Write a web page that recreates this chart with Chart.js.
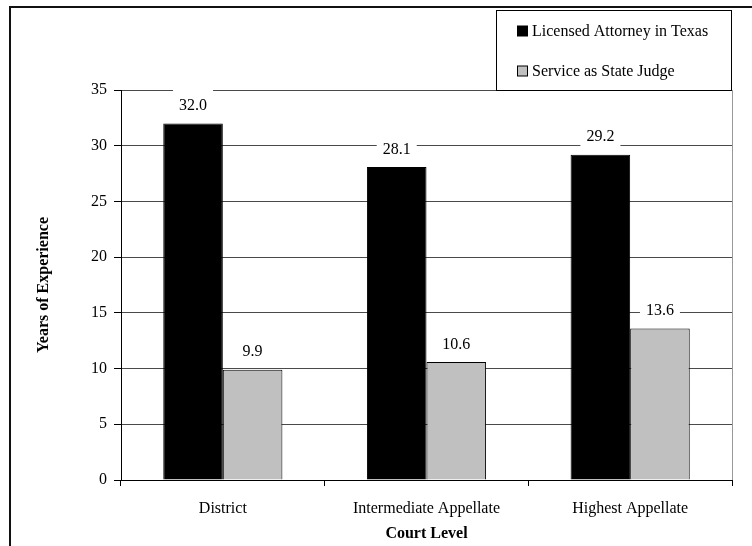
<!DOCTYPE html>
<html>
<head>
<meta charset="utf-8">
<script src="https://cdn.jsdelivr.net/npm/chart.js@4"></script>
<style>
  html, body { margin: 0; padding: 0; background: #fff; }
  #wrap { width: 752px; height: 546px; }
</style>
</head>
<body>
<div id="wrap"><canvas id="c" width="752" height="546"></canvas></div>
<script>
// Court levels and average years of experience per level
const courtLevels = ['District', 'Intermediate Appellate', 'Highest Appellate'];
const seriesNames = ['Licensed Attorney in Texas', 'Service as State Judge'];
const attorneyYears = [32.0, 28.1, 29.2];
const judgeYears = [9.9, 10.6, 13.6];
const yAxisMin = 0;
const yAxisMax = 35;
const yAxisStep = 5;

const SERIF = "'Liberation Serif', 'Times New Roman', serif";

// White page with the outer frame (left and top edges)
const framePlugin = {
  id: 'frame',
  beforeDraw(chart) {
    const ctx = chart.ctx;
    ctx.save();
    ctx.fillStyle = '#fff';
    ctx.fillRect(0, 0, chart.width, chart.height);
    ctx.strokeStyle = '#111';
    ctx.lineWidth = 2;
    ctx.beginPath();
    ctx.moveTo(10, chart.height + 2);
    ctx.lineTo(10, 7);
    ctx.lineTo(chart.width + 2, 7);
    ctx.stroke();
    ctx.restore();
  }
};

// Value labels above each bar, on a white box that hides the grid behind it
const valueLabelPlugin = {
  id: 'valueLabels',
  afterDatasetsDraw(chart) {
    const ctx = chart.ctx;
    ctx.save();
    ctx.font = '16px ' + SERIF;
    ctx.textAlign = 'center';
    ctx.textBaseline = 'middle';
    chart.data.datasets.forEach((ds, di) => {
      const meta = chart.getDatasetMeta(di);
      meta.data.forEach((bar, i) => {
        const txt = ds.data[i].toFixed(1);
        const w = ctx.measureText(txt).width + 12;
        const top = bar.y - 36;
        ctx.fillStyle = '#fff';
        ctx.fillRect(bar.x - w / 2, top, w, 34);
        ctx.fillStyle = '#000';
        ctx.fillText(txt, bar.x, bar.y - 17.5);
      });
    });
    ctx.restore();
  }
};

// Boxed legend in the top-right corner
const boxLegendPlugin = {
  id: 'boxLegend',
  afterDraw(chart) {
    const ctx = chart.ctx;
    const x0 = 496.5, y0 = 10.5, w = 235, h = 80;
    ctx.save();
    ctx.fillStyle = '#fff';
    ctx.fillRect(x0, y0, w, h);
    ctx.strokeStyle = '#000';
    ctx.lineWidth = 1;
    ctx.strokeRect(x0, y0, w, h);
    ctx.font = '16px ' + SERIF;
    ctx.textAlign = 'left';
    ctx.textBaseline = 'middle';
    chart.data.datasets.forEach((ds, i) => {
      const cy = 31 + i * 40;
      ctx.fillStyle = ds.backgroundColor;
      ctx.fillRect(517.5, cy - 5, 10, 10);
      ctx.strokeStyle = '#000';
      ctx.strokeRect(517.5, cy - 5, 10, 10);
      ctx.fillStyle = '#000';
      ctx.fillText(ds.label, 532, cy + 1);
    });
    ctx.restore();
  }
};

new Chart(document.getElementById('c'), {
  type: 'bar',
  data: {
    labels: courtLevels,
    datasets: [
      {
        label: seriesNames[0],
        data: attorneyYears,
        backgroundColor: '#000000',
        borderColor: '#000000',
        borderWidth: 1
      },
      {
        label: seriesNames[1],
        data: judgeYears,
        backgroundColor: '#C0C0C0',
        borderColor: '#000000',
        borderWidth: 1
      }
    ]
  },
  options: {
    responsive: false,
    animation: false,
    events: [],
    layout: { padding: { top: 90, right: 20, bottom: 0, left: 0 } },
    datasets: {
      bar: { categoryPercentage: 0.585, barPercentage: 1.0 }
    },
    plugins: {
      legend: { display: false },
      tooltip: { enabled: false }
    },
    scales: {
      x: {
        afterFit(scale) { scale.height = 66; },
        grid: {
          offset: true,
          drawOnChartArea: true,
          color: c => (c.type === 'tick' ? 'rgba(0,0,0,0)' : '#999999'),
          tickColor: '#000',
          tickLength: 6,
          lineWidth: 1
        },
        border: { display: true, color: '#000', width: 1 },
        ticks: {
          color: '#000',
          font: { family: SERIF, size: 16 },
          padding: 13,
          maxRotation: 0
        },
        title: {
          display: true,
          text: 'Court Level',
          color: '#000',
          font: { family: SERIF, size: 16, weight: 'bold' },
          padding: { top: 0, bottom: 3 }
        }
      },
      y: {
        min: yAxisMin,
        max: yAxisMax,
        afterFit(scale) { scale.width = 121; },
        grid: {
          color: '#4a4a4a',
          tickColor: '#000',
          tickLength: 7,
          lineWidth: 1
        },
        border: { display: true, color: '#000', width: 1 },
        ticks: {
          stepSize: yAxisStep,
          color: '#000',
          font: { family: SERIF, size: 16 },
          padding: 7
        },
        title: {
          display: true,
          text: 'Years of Experience',
          color: '#000',
          font: { family: SERIF, size: 16, weight: 'bold' },
          padding: { top: 34, bottom: 0 }
        }
      }
    }
  },
  plugins: [framePlugin, valueLabelPlugin, boxLegendPlugin]
});
</script>
</body>
</html>
